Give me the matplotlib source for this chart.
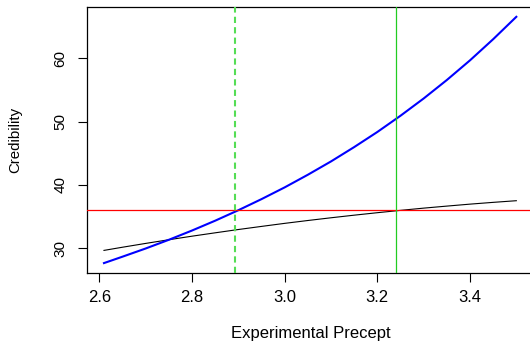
import matplotlib
matplotlib.use("Agg")
import matplotlib.pyplot as plt

plt.rcParams['font.family'] = ['Liberation Sans', 'DejaVu Sans']

# Data
x_vals = [2.61, 2.65, 2.70, 2.75, 2.80, 2.85, 2.90, 2.95, 3.00, 3.05,
          3.10, 3.15, 3.20, 3.25, 3.30, 3.35, 3.40, 3.45, 3.50]
blue_vals = [27.69, 28.70, 29.99, 31.36, 32.82, 34.37, 36.02, 37.77, 39.62, 41.61,
             43.71, 45.97, 48.35, 50.91, 53.63, 56.54, 59.64, 62.97, 66.50]
black_vals = [29.69, 30.19, 30.79, 31.37, 31.93, 32.46, 32.98, 33.47, 33.95, 34.40,
              34.83, 35.24, 35.63, 36.00, 36.35, 36.67, 36.98, 37.26, 37.52]
hline_y = 36.0
vline_dashed_x = 2.893
vline_solid_x = 3.241
x_ticks = [2.6, 2.8, 3.0, 3.2, 3.4]
x_ticklabels = ["2.6", "2.8", "3.0", "3.2", "3.4"]
y_ticks = [30, 40, 50, 60]
y_ticklabels = ["30", "40", "50", "60"]
x_label = "Experimental Precept"
y_label = "Credibility"

W, H = 530, 341
fig = plt.figure(figsize=(W / 100, H / 100), dpi=100)
left_px, right_px, top_px, bottom_px = 87.3, 533.0, 7.3, 273.3
ax = fig.add_axes([left_px / W, 1 - bottom_px / H,
                   (right_px - left_px) / W, (bottom_px - top_px) / H])

ax.plot(x_vals, black_vals, color='black', lw=0.8, zorder=2)
ax.plot(x_vals, blue_vals, color='#0000ff', lw=1.5, zorder=3)
ax.axhline(hline_y, color='#ff0000', lw=0.9, zorder=4)
ax.axvline(vline_solid_x, color='#22cc22', lw=0.9, zorder=4)
ax.axvline(vline_dashed_x, color='#55dd55', lw=1.5, ls=(0, (3, 2)), zorder=4)

ax.set_xlim(2.574, 3.536)
ax.set_ylim(26.08, 68.0)
ax.set_xticks(x_ticks)
ax.set_xticklabels(x_ticklabels, fontsize=12)
ax.set_yticks(y_ticks)
ax.set_yticklabels(y_ticklabels, rotation=90, va='center', fontsize=11)

ax.tick_params(axis='both', direction='out', length=6.5, width=0.8,
               colors='black')
ax.tick_params(axis='x', pad=5.5)
ax.tick_params(axis='y', pad=8.0)
for s in ax.spines.values():
    s.set_linewidth(0.9)
    s.set_color('black')

fig.text(310.5 / W, 1 - 338 / H, x_label, ha='center', va='baseline', fontsize=12)
fig.text(15.5 / W, 1 - 140.3 / H, y_label, ha='center', va='center',
         rotation=90, fontsize=10.8)

fig.savefig("out.png", dpi=100)
